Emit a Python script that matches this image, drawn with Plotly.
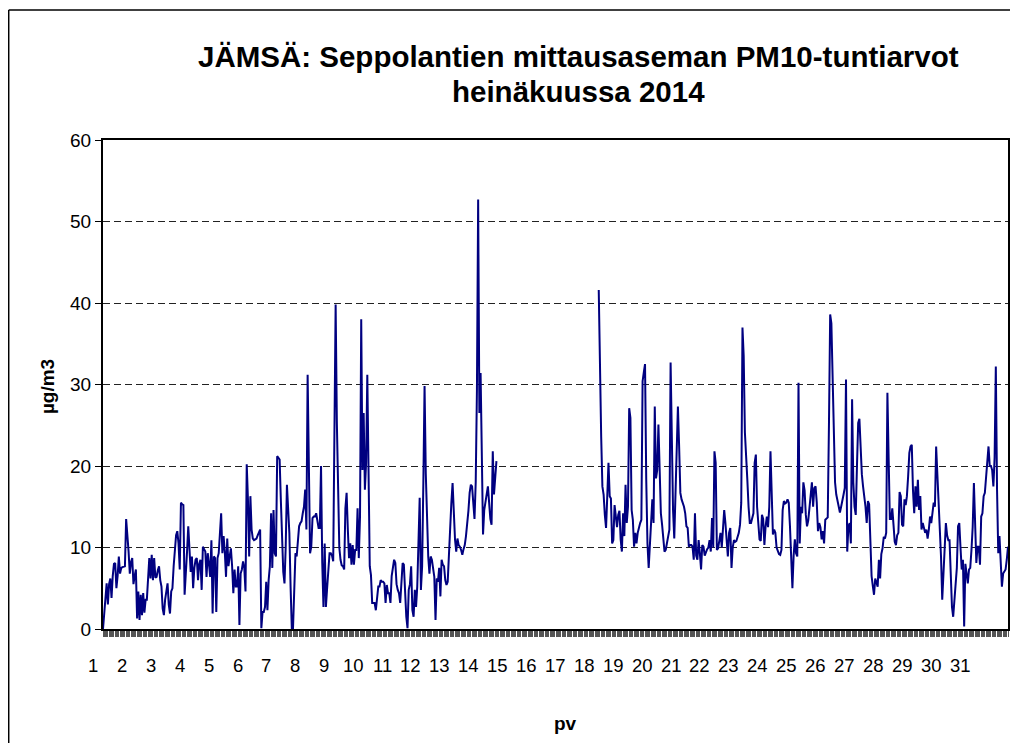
import plotly.graph_objects as go

# Hourly PM10 values (µg/m3), July 2014, one list per day (24 hours each); None = missing
day01 = [0, 2, 4.5, 5.6, 3, 5.5, 6.2, 3.8, 6.5, 8.0, 8.1, 5, 6.5, 8.9, 6.8, 7.5, 7.6, 7.7, 7.7, 13.5, 11.8, 9.5, 6.8, 8.2]
day02 = [8.7, 5.5, 6.5, 7.3, 1.3, 4.6, 1.1, 4.2, 1.7, 4.4, 2.0, 3.6, 3.6, 5.8, 8.7, 6.2, 9.1, 6.0, 8.7, 6.3, 6.4, 7.2, 7.7, 6.0]
day03 = [5.2, 2.5, 1.7, 3.6, 4.4, 5.6, 3.0, 1.9, 4.6, 5.0, 7.7, 10.1, 11.5, 12.0, 10.5, 7.3, 15.5, 15.3, 15.2, 4.2, 8.0, 9.5, 12.6, 9.0]
day04 = [7.0, 8.9, 5.0, 7.5, 8.5, 8.7, 6.0, 8.0, 8.5, 4.8, 10.1, 9.8, 9.5, 6.4, 9.3, 8.0, 6.4, 10.9, 1.9, 8.9, 8.7, 2.1, 8.7, 9.3]
day05 = [11.4, 14.2, 9.3, 11.4, 9.5, 6.4, 11.1, 7.7, 8.9, 9.9, 7.7, 4.4, 7.3, 5.2, 5.2, 7.7, 0.5, 6.8, 7.3, 8.3, 7.5, 4.6, 20.2, 15.9]
day06 = [8.9, 16.3, 12.2, 11.1, 10.9, 11.0, 11.1, 11.5, 12.0, 12.2, 0.1, 2.1, 2.1, 2.7, 5.8, 2.3, 6.0, 7.7, 14.2, 7.5, 14.6, 9.3, 8.9, 21.2]
day07 = [21.0, 20.8, 15.9, 10.1, 7, 5.6, 10.1, 17.7, 14.5, 11.8, 5.2, 0.1, 0.1, 5.2, 9.3, 8.9, 11, 12.6, 13, 13.2, 14.2, 15.0, 17.1, 12.2]
day08 = [31.2, 16.3, 9.3, 10.1, 13.6, 13.8, 13.8, 14.2, 13.5, 12.4, 12.4, 20.0, 8.1, 2.7, 10.5, 2.7, 5, 7.5, 9.3, 9.3, 9, 8.3, 29.4, 39.8]
day09 = [25.3, 17.1, 10, 8.5, 7.8, 7.7, 7.3, 14.8, 16.7, 12.2, 8.7, 10.5, 7.9, 10.3, 7.9, 9.7, 9.7, 14.8, 8.7, 13.8, 38.0, 19.5, 26.5, 17.1]
day10 = [20.4, 31.2, 20.4, 7.7, 6.6, 3.2, 3.2, 3.2, 2.3, 4.0, 5.2, 5.2, 6.0, 5.8, 5.8, 5.6, 3.2, 5.4, 4.4, 4.4, 3.2, 6.5, 7.9, 8.5]
day11 = [8.1, 5.5, 4.8, 4.4, 3.2, 5.5, 8.1, 7.9, 4.4, 1.5, 0.1, 4.8, 5.5, 7.7, 2.3, 1.5, 4.8, 2.7, 5.2, 12, 16.1, 4.8, 7.7, 17.9]
day12 = [29.8, 19.1, 12, 8.9, 6.8, 8.9, 8.5, 7.7, 6.4, 1.1, 6.2, 5.8, 7.5, 4.0, 8.5, 7.9, 7.7, 6.0, 5.4, 5.8, 9.5, 12.5, 15.5, 17.9]
day13 = [13.4, 11, 9.5, 11.1, 10.3, 10.1, 9.7, 9.1, 9.8, 10.3, 11.4, 12.8, 14.5, 16.7, 17.7, 17.5, 15, 13.5, 18, 29.4, 52.7, 26.5, 31.4, 21.2]
day14 = [11.6, 14.6, 15.7, 16.5, 17.5, 15.5, 13.5, 12.8, 21.8, 16.5, 19.1, 20.6] + [None] * 12
day15 = [None] * 24
day16 = [None] * 24
day17 = [None] * 23 + [41.6]
day18 = [29.0, 23.6, 17.5, 16.5, 14, 12.4, 16.3, 20.4, 16.3, 16, 10.5, 10.9, 15.2, 13.8, 12.5, 14, 14.5, 11.0, 9.5, 14.2, 11.4, 17.7, 13.0, 15.0]
day19 = [27.1, 25.9, 14.6, 13.4, 10.1, 11.8, 10.5, 11.8, 12.6, 13.0, 13.4, 30.4, 31.5, 32.5, 18.3, 10.5, 7.5, 10.5, 13.4, 15.9, 13.0, 27.3, 18.5, 19.5]
day20 = [25.1, 18.3, 14.2, 12.8, 11, 9.5, 9.7, 10.5, 11.4, 12.2, 32.7, 20.0, 14.6, 11.1, 15.9, 23.6, 27.3, 22.4, 16.7, 15.9, 15.5, 15.0, 14.2, 12.6]
day21 = [12.4, 10.1, 10.3, 10.3, 10.1, 8.5, 14.2, 9, 8.5, 10.9, 9.3, 7.3, 10.3, 10.1, 9, 9.5, 9.8, 10, 10.9, 9.5, 13.6, 10, 21.8, 20.4]
day22 = [9.7, 9.9, 11, 11.8, 10, 12, 14.6, 13, 11, 8.9, 11.8, 12.4, 7.5, 10, 10.9, 10.7, 10.8, 11.3, 11.8, 12.8, 15.5, 37.0, 33.5, 24.1]
day23 = [20, 18.3, 15, 13, 13, 13.6, 14.2, 20.4, 21.4, 15, 12.2, 11, 10.8, 14, 13.5, 10.3, 12.6, 13.8, 12.5, 15, 21.8, 16.3, 11.6, 12.2]
day24 = [11.8, 10, 9.5, 9.2, 9.1, 9.7, 14.6, 15.7, 15.4, 15.5, 15.9, 15.5, 12.6, 8, 5.0, 9, 11, 9.3, 8.9, 30.2, 10.5, 15, 14.2, 18]
day25 = [17, 14, 12.6, 13.3, 15, 16.5, 18, 15, 17.3, 17.5, 15.5, 12, 13, 12.5, 11, 12, 10.5, 13.4, 13.5, 13.7, 25, 38.6, 37.5, 30.5]
day26 = [22, 18, 16.5, 15.7, 15.4, 14.3, 15, 16, 16.5, 17.3, 30.6, 9.5, 12.6, 13, 10.5, 28.2, 18, 15, 14, 20, 25.3, 25.8, 22, 19]
day27 = [17.5, 16.3, 15, 13, 15.7, 15.3, 10.8, 6.5, 5.3, 4.2, 6.2, 5.8, 5.2, 8.5, 6.2, 9.2, 9.9, 11.3, 11.1, 11.8, 29, 21, 13.5, 13.5]
day28 = [14.8, 12.8, 10.7, 10.3, 11.5, 11.8, 16.8, 16.3, 12.8, 12.6, 15.9, 15.2, 16.3, 18.7, 21.6, 22.4, 22.6, 17, 14.2, 17.5, 15, 18.3, 14.6, 16.3]
day29 = [12.2, 13, 12.5, 11.8, 12.2, 11.1, 12.2, 13.8, 13, 14.6, 15.5, 15, 22.4, 19, 15.9, 12.6, 8.9, 3.6, 6.4, 10.1, 13, 11.5, 10.9, 10.9]
day30 = [6.0, 2.7, 1.5, 4, 6, 7.5, 12.6, 13, 10, 7.3, 8.5, 0.3, 8, 6.5, 5.6, 7.3, 7.5, 9.7, 12.5, 17.9, 12, 8.1, 10.1, 10.1]
day31 = [7.9, 13.8, 14.2, 16.3, 16.7, 19, 21, 22.4, 20.0, 20.0, 19.5, 17.5, 21, 32.2, 17.1, 9.3, 11.4, 8.5, 5.2, 6.8, 7, 7.3, 8.5, 10.1]

day_labels = [str(d) for d in range(1, 32)]

days = [day01, day02, day03, day04, day05, day06, day07, day08, day09, day10,
        day11, day12, day13, day14, day15, day16, day17, day18, day19, day20,
        day21, day22, day23, day24, day25, day26, day27, day28, day29, day30, day31]
values = [v for d in days for v in d]
hours = list(range(len(values)))
n_last = len(values) - 1

FONT = "Arial, Liberation Sans, sans-serif"

# page places the figure 8px in from the top-left corner
PL, PT, PW, PH = 103, 140, 907, 489   # plot box in page pixels


def px(xp):
    return (xp - PL) / PW


def py(yp):
    return (PT + PH - yp) / PH


fig = go.Figure()
fig.add_trace(go.Scatter(
    x=hours, y=values, mode="lines",
    line=dict(color="#000080", width=2),
    connectgaps=False, showlegend=False, hoverinfo="skip",
))

fig.update_layout(
    width=1010, height=735,
    margin=dict(l=95, r=8, t=132, b=114),
    paper_bgcolor="white", plot_bgcolor="white",
    font=dict(family=FONT, color="black"),
    showlegend=False,
)

fig.update_xaxes(
    range=[0, n_last],
    tick0=0, dtick=1, ticks="outside", ticklen=6, tickwidth=1, tickcolor="#555",
    showticklabels=False, showgrid=False, zeroline=False,
    showline=True, linecolor="black", linewidth=2, mirror=True,
)
fig.update_yaxes(
    range=[0, 60], tick0=0, dtick=10,
    ticks="outside", ticklen=6, tickwidth=1, tickcolor="black",
    tickfont=dict(family=FONT, size=19, color="black"),
    showgrid=True, gridcolor="#222", gridwidth=1, griddash="7px,4px",
    zeroline=False,
    showline=True, linecolor="black", linewidth=2, mirror=True,
)

# day labels along the category axis (Excel places them slightly left of each day start)
for i, lab in enumerate(day_labels):
    fig.add_annotation(
        x=(-8.2 + i * 23.73) / n_last, xref="paper", y=py(665), yref="paper",
        text=lab, showarrow=False, xanchor="center", yanchor="middle",
        font=dict(family=FONT, size=18.5, color="black"),
    )

# title
fig.add_annotation(x=px(580), xref="paper", y=py(56), yref="paper",
                   showarrow=False, xanchor="center", yanchor="middle",
                   text="<b>JÄMSÄ: Seppolantien mittausaseman PM10-tuntiarvot</b>",
                   font=dict(family=FONT, size=29.5, color="black"))
fig.add_annotation(x=px(580), xref="paper", y=py(92), yref="paper",
                   showarrow=False, xanchor="center", yanchor="middle",
                   text="<b>heinäkuussa 2014</b>",
                   font=dict(family=FONT, size=29.5, color="black"))

# axis titles
fig.add_annotation(x=px(47), xref="paper", y=py(387), yref="paper",
                   showarrow=False, textangle=-90, xanchor="center", yanchor="middle",
                   text="<b>µg/m3</b>", font=dict(family=FONT, size=19, color="black"))
fig.add_annotation(x=px(567), xref="paper", y=py(723), yref="paper",
                   showarrow=False, xanchor="center", yanchor="middle",
                   text="<b>pv</b>", font=dict(family=FONT, size=19, color="black"))

# outer chart border (left and top edges visible in the frame)
fig.add_shape(type="line", xref="paper", yref="paper",
              x0=px(8.5), x1=px(8.5), y0=py(760), y1=py(10),
              line=dict(color="black", width=1.5), layer="below")
fig.add_shape(type="line", xref="paper", yref="paper",
              x0=px(8.5), x1=px(1030), y0=py(10), y1=py(10),
              line=dict(color="black", width=1.5), layer="below")

fig.write_html("out.html")
